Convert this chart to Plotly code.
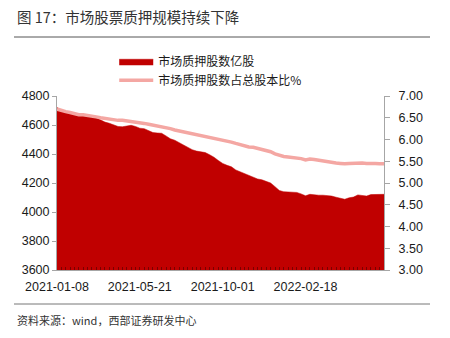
import plotly.graph_objects as go

# Weekly observation dates
dates = [
    "2021-01-08", "2021-01-15", "2021-01-22", "2021-01-29", "2021-02-05", "2021-02-12",
    "2021-02-19", "2021-02-26", "2021-03-05", "2021-03-12", "2021-03-19", "2021-03-26",
    "2021-04-02", "2021-04-09", "2021-04-16", "2021-04-23", "2021-04-30", "2021-05-07",
    "2021-05-14", "2021-05-21", "2021-05-28", "2021-06-04", "2021-06-11", "2021-06-18",
    "2021-06-25", "2021-07-02", "2021-07-09", "2021-07-16", "2021-07-23", "2021-07-30",
    "2021-08-06", "2021-08-13", "2021-08-20", "2021-08-27", "2021-09-03", "2021-09-10",
    "2021-09-17", "2021-09-24", "2021-10-01", "2021-10-08", "2021-10-15", "2021-10-22",
    "2021-10-29", "2021-11-05", "2021-11-12", "2021-11-19", "2021-11-26", "2021-12-03",
    "2021-12-10", "2021-12-17", "2021-12-24", "2021-12-31", "2022-01-07", "2022-01-14",
    "2022-01-21", "2022-01-28", "2022-02-11", "2022-02-18", "2022-02-25", "2022-03-04",
    "2022-03-11", "2022-03-18", "2022-03-25", "2022-04-01", "2022-04-08", "2022-04-15",
    "2022-04-22", "2022-04-29", "2022-05-06", "2022-05-13", "2022-05-20", "2022-05-27",
    "2022-06-03", "2022-06-10", "2022-06-17", "2022-06-24",
]

# 市场质押股数（亿股）
pledged_shares = [
    4722, 4695, 4690, 4685, 4678, 4668, 4666, 4666, 4660, 4650,
    4634, 4620, 4612, 4600, 4590, 4588, 4592, 4598, 4590, 4578,
    4575, 4562, 4548, 4545, 4543, 4525, 4505, 4495, 4478, 4467,
    4445, 4430, 4420, 4415, 4410, 4395, 4378, 4355, 4335, 4322,
    4312, 4290, 4278, 4262, 4250, 4238, 4228, 4222, 4212, 4200,
    4175, 4148, 4140, 4138, 4136, 4135, 4125, 4112, 4122, 4118,
    4116, 4116, 4115, 4110, 4102, 4095, 4088, 4098, 4103, 4118,
    4112, 4110, 4120, 4120, 4120, 4122,
]

# 市场质押股数占总股本比（%）
pledged_ratio = [
    6.70, 6.66, 6.64, 6.62, 6.59, 6.57, 6.57, 6.56, 6.55, 6.52,
    6.50, 6.48, 6.46, 6.45, 6.44, 6.44, 6.43, 6.42, 6.41, 6.40,
    6.37, 6.35, 6.33, 6.32, 6.31, 6.28, 6.25, 6.22, 6.20, 6.18,
    6.15, 6.12, 6.11, 6.09, 6.07, 6.06, 6.04, 6.01, 5.98, 5.96,
    5.94, 5.91, 5.88, 5.85, 5.83, 5.82, 5.80, 5.78, 5.76, 5.72,
    5.67, 5.63, 5.61, 5.60, 5.59, 5.58, 5.56, 5.53, 5.55, 5.54,
    5.52, 5.50, 5.48, 5.47, 5.46, 5.45, 5.44, 5.45, 5.46, 5.47,
    5.46, 5.45, 5.46, 5.45, 5.44, 5.44,
]

label_dates = ["2021-01-08", "2021-05-21", "2021-10-01", "2022-02-18"]

idx = list(range(len(dates)))
label_idx = [dates.index(d) for d in label_dates]

FONT = "Liberation Sans, Arial, Noto Sans CJK SC, sans-serif"
CJK = "Noto Sans CJK SC, sans-serif"
AXIS_GRAY = "#a6a6a6"

fig = go.Figure()

fig.add_trace(go.Scatter(
    x=idx, y=pledged_shares, name="市场质押股数亿股",
    mode="lines", fill="tozeroy", fillcolor="#c00000",
    line=dict(color="#c00000", width=0.5),
    customdata=dates, hovertemplate="%{customdata}: %{y}<extra></extra>",
))
fig.add_trace(go.Scatter(
    x=idx, y=pledged_ratio, name="市场质押股数占总股本比%",
    mode="lines", yaxis="y2",
    line=dict(color="#f4a7a3", width=3.5),
    customdata=dates, hovertemplate="%{customdata}: %{y:.2f}<extra></extra>",
))

fig.update_layout(
    width=450, height=338,
    margin=dict(l=57, r=66, t=96, b=68),
    paper_bgcolor="white", plot_bgcolor="white",
    font=dict(family=FONT, size=12, color="#1a1a1a"),
    showlegend=True,
    legend=dict(
        x=0.175, y=1.283, xanchor="left", yanchor="top",
        font=dict(family=CJK, size=12, color="#1a1a1a"),
        bgcolor="rgba(0,0,0,0)", itemwidth=34, tracegroupgap=0,
    ),
    xaxis=dict(
        range=[0, len(dates) - 1], tickmode="array",
        tickvals=label_idx, ticktext=label_dates,
        showline=True, linecolor=AXIS_GRAY, linewidth=1,
        ticks="inside", ticklen=3, tickcolor="#7a0000",
        minor=dict(dtick=1, tick0=0, ticks="inside", ticklen=3, tickcolor="#7a0000"),
        showgrid=False, zeroline=False,
        tickfont=dict(size=12.5), ticklabelstandoff=5,
    ),
    yaxis=dict(
        range=[3600, 4800], dtick=200,
        showline=True, linecolor=AXIS_GRAY, linewidth=1,
        ticks="outside", ticklen=4, tickcolor=AXIS_GRAY,
        showgrid=False, zeroline=False, tickfont=dict(size=12.5),
    ),
    yaxis2=dict(
        range=[3, 7], dtick=0.5, tickformat=".2f",
        overlaying="y", side="right",
        showline=True, linecolor=AXIS_GRAY, linewidth=1,
        ticks="outside", ticklen=5, tickcolor=AXIS_GRAY,
        showgrid=False, zeroline=False, tickfont=dict(size=12.5),
        ticklabelstandoff=6,
    ),
)

# Header and footer rules
fig.add_shape(type="line", xref="paper", yref="paper",
              x0=(14 - 57) / 327, x1=(430 - 57) / 327,
              y0=1 + (96 - 37) / 174, y1=1 + (96 - 37) / 174,
              line=dict(color="#555555", width=1))
fig.add_shape(type="line", xref="paper", yref="paper",
              x0=(14 - 57) / 327, x1=(430 - 57) / 327,
              y0=-(304 - 270) / 174, y1=-(304 - 270) / 174,
              line=dict(color="#777777", width=1))

fig.add_annotation(
    text="图 17：市场股票质押规模持续下降", xref="paper", yref="paper",
    x=(15 - 57) / 327, y=1 + (96 - 17) / 174, xanchor="left", yanchor="middle",
    showarrow=False, font=dict(family=CJK, size=14.5, color="#333333"),
)
fig.add_annotation(
    text="资料来源：wind，西部证券研发中心", xref="paper", yref="paper",
    x=(15 - 57) / 327, y=-(320 - 270) / 174, xanchor="left", yanchor="middle",
    showarrow=False, font=dict(family=CJK, size=11, color="#333333"),
)

fig.write_html("out.html")
